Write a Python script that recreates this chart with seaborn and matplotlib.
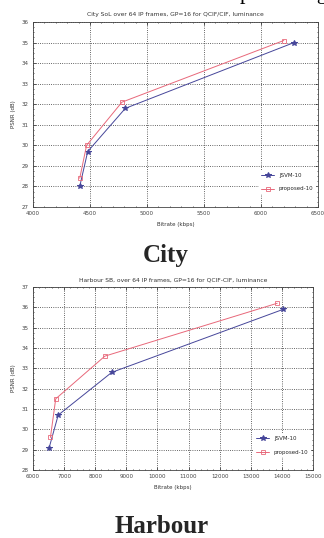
import matplotlib
matplotlib.use("Agg")
import matplotlib.pyplot as plt
import seaborn as sns
import pandas as pd
from matplotlib.ticker import MultipleLocator, AutoMinorLocator

# City data
city_jsvm_rate = [4410, 4480, 4810, 6290]
city_jsvm_psnr = [28.0, 29.7, 31.8, 35.0]
city_prop_rate = [4410, 4470, 4780, 6200]
city_prop_psnr = [28.4, 30.0, 32.1, 35.1]

# Harbour data
harb_jsvm_rate = [6520, 6810, 8530, 14040]
harb_jsvm_psnr = [29.1, 30.7, 32.8, 35.9]
harb_prop_rate = [6560, 6730, 8310, 13850]
harb_prop_psnr = [29.6, 31.5, 33.6, 36.2]

labels = ["JSVM-10", "proposed-10"]
blue = "#46469a"
red = "#e8687a"

sns.set_style("white")
plt.rcParams['font.family'] = ['DejaVu Sans']

fig = plt.figure(figsize=(3.24, 5.38), dpi=100)

# clipped caption line from the page above (only descenders show)
fig.text(240 / 324, 1 + 1 / 538, "precoding", family="Liberation Serif",
         fontsize=16, ha="left", va="baseline", color="black")


def draw(ax, r1, p1, r2, p2, title, xlim, ylim, xstep):
    sns.lineplot(x=r1, y=p1, sort=False, color=blue, marker="*",
                 markersize=4, markeredgecolor=blue, linewidth=0.7,
                 label=labels[0], ax=ax)
    sns.lineplot(x=r2, y=p2, sort=False, color=red, marker="s",
                 markersize=3, markerfacecolor="none", markeredgecolor=red,
                 markeredgewidth=0.6, linewidth=0.7, label=labels[1], ax=ax)
    ax.set_xlim(*xlim)
    ax.set_ylim(*ylim)
    ax.xaxis.set_major_locator(MultipleLocator(xstep))
    ax.yaxis.set_major_locator(MultipleLocator(1))
    ax.xaxis.set_minor_locator(AutoMinorLocator(5))
    ax.yaxis.set_minor_locator(AutoMinorLocator(4))
    ax.grid(True, which="major", color="#333333", linestyle=":", linewidth=0.6)
    ax.tick_params(which="both", direction="in", labelsize=4, length=2,
                   width=0.5, pad=3, top=True, right=True, left=True, bottom=True)
    ax.tick_params(which="minor", length=1)
    for s in ax.spines.values():
        s.set_linewidth(0.6)
        s.set_color("#444444")
    ax.set_title(title, fontsize=4.3, pad=4, color="#333333")
    ax.set_xlabel("Bitrate (kbps)", fontsize=4, color="#333333", labelpad=4)
    ax.set_ylabel("PSNR (dB)", fontsize=4, color="#333333", labelpad=4)
    for t in ax.get_xticklabels() + ax.get_yticklabels():
        t.set_color("#444444")
    leg = ax.legend(loc="lower right", fontsize=4, frameon=True,
                    bbox_to_anchor=(1.0, 0.06), handlelength=2.5,
                    labelspacing=1.6, borderpad=0.3)
    leg.get_frame().set_edgecolor("white")
    leg.get_frame().set_facecolor("white")
    leg.get_frame().set_alpha(1)


ax1 = fig.add_axes([33 / 324, 1 - 207 / 538, 285 / 324, 185 / 538])
draw(ax1, city_jsvm_rate, city_jsvm_psnr, city_prop_rate, city_prop_psnr,
     "City SoL over 64 IP frames, GP=16 for QCIF/CIF, luminance",
     (4000, 6500), (27, 36), 500)

ax2 = fig.add_axes([33 / 324, 1 - 470 / 538, 280 / 324, 183 / 538])
draw(ax2, harb_jsvm_rate, harb_jsvm_psnr, harb_prop_rate, harb_prop_psnr,
     "Harbour SB, over 64 IP frames, GP=16 for QCIF-CIF, luminance",
     (6000, 15000), (28, 37), 1000)

fig.text(166 / 324, 1 - 262 / 538, "City", family="Liberation Serif",
         fontweight="bold", fontsize=18, ha="center", va="baseline")
fig.text(162 / 324, 1 - 533 / 538, "Harbour", family="Liberation Serif",
         fontweight="bold", fontsize=18, ha="center", va="baseline")

fig.savefig("out.png", dpi=100)
